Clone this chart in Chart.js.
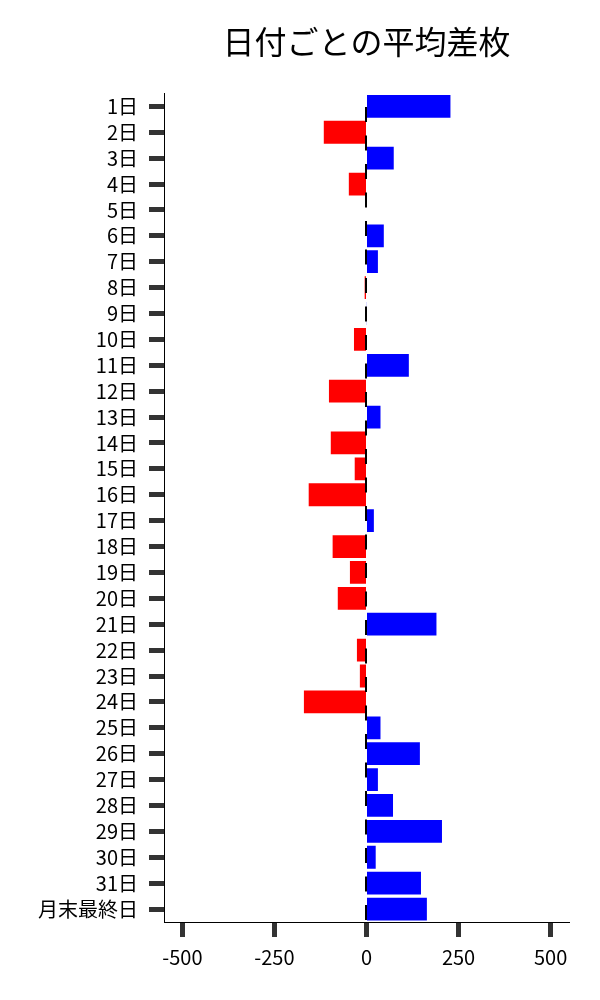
<!DOCTYPE html>
<html>
<head>
<meta charset="utf-8">
<script src="https://cdn.jsdelivr.net/npm/chart.js@4/dist/chart.umd.min.js"></script>
<style>
  html, body { margin: 0; padding: 0; background: #fff; }
  #wrap { width: 600px; height: 1000px; }
</style>
</head>
<body>
<div id="wrap"><canvas id="c" width="600" height="1000"></canvas></div>
<script>
const titleText = "日付ごとの平均差枚";
const categories = ["1日","2日","3日","4日","5日","6日","7日","8日","9日","10日",
  "11日","12日","13日","14日","15日","16日","17日","18日","19日","20日",
  "21日","22日","23日","24日","25日","26日","27日","28日","29日","30日","31日","月末最終日"];
const avgDiff = [228, -116, 74, -48, 0, 47, 31, -5, 1, -34,
  115, -102, 38, -97, -32, -157, 20, -92, -45, -78,
  190, -26, -18, -170, 38, 145, 31, 72, 205, 25, 148, 164];
const xTicks = [-500, -250, 0, 250, 500];
const xMin = -550, xMax = 550;

const FONT = '"Noto Sans CJK JP", "Noto Sans", sans-serif';

const zeroLine = {
  id: 'zeroLine',
  afterDatasetsDraw(chart) {
    const xs = chart.scales.x, area = chart.chartArea, ctx = chart.ctx;
    const x = xs.getPixelForValue(0) - 0.5;
    ctx.save();
    ctx.strokeStyle = '#000';
    ctx.lineWidth = 2;
    ctx.setLineDash([15, 13.5]);
    ctx.lineDashOffset = 15;
    ctx.beginPath();
    ctx.moveTo(x, area.top);
    ctx.lineTo(x, area.bottom);
    ctx.stroke();
    ctx.restore();
  }
};

new Chart(document.getElementById('c'), {
  type: 'bar',
  data: {
    labels: categories,
    datasets: [{
      data: avgDiff,
      backgroundColor: avgDiff.map(v => v >= 0 ? '#0000ff' : '#ff0000'),
      borderWidth: 0,
      barPercentage: 0.88,
      categoryPercentage: 1.0
    }]
  },
  options: {
    indexAxis: 'y',
    responsive: false,
    animation: false,
    layout: { padding: { left: 0, right: 31, top: 0, bottom: 23 } },
    plugins: {
      legend: { display: false },
      tooltip: { enabled: false },
      title: {
        display: true,
        text: titleText,
        fullSize: false,
        color: '#000',
        font: { family: FONT, size: 32, weight: 'normal', lineHeight: 1.2 },
        padding: { top: 23, bottom: 32 }
      }
    },
    scales: {
      x: {
        type: 'linear',
        min: xMin, max: xMax,
        afterBuildTicks: (s) => { s.ticks = xTicks.map(v => ({ value: v })); },
        grid: { drawOnChartArea: false, drawTicks: true, tickLength: 15, tickWidth: 5, tickColor: '#333' },
        border: { display: true, color: '#000', width: 1 },
        ticks: { color: '#000', padding: 8, maxRotation: 0, font: { family: FONT, size: 20 } }
      },
      y: {
        type: 'category',
        afterFit: (s) => { s.width = 164; },
        grid: { drawOnChartArea: false, drawTicks: true, tickLength: 15, tickWidth: 5, tickColor: '#333', offset: false },
        border: { display: true, color: '#000', width: 1 },
        ticks: { color: '#000', padding: 11, autoSkip: false, font: { family: FONT, size: 20 } }
      }
    }
  },
  plugins: [zeroLine]
});
</script>
</body>
</html>
